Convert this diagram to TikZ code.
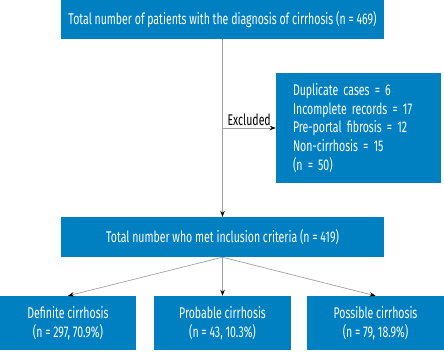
\documentclass[tikz,border=0pt]{standalone}
\usepackage{fontspec}
\setmainfont[FakeStretch=0.68]{Fira Sans}
\usetikzlibrary{arrows.meta}
\definecolor{boxblue}{RGB}{0,128,192}
\definecolor{linegrey}{RGB}{160,160,160}
\tikzset{
  bluebox/.style={fill=boxblue, text=white, draw=none, inner sep=0pt, font=\fontsize{15.5}{19}\selectfont, align=center},
  conn/.style={draw=linegrey, line width=0.7pt, -{Stealth[length=6pt,width=4.5pt,black]}}
}
\begin{document}
\begin{tikzpicture}[x=1pt,y=-1pt]
\useasboundingbox (0,0) rectangle (444,359);
\node[bluebox, minimum width=323pt, minimum height=39pt] (top) at (222.5,19.5) {Total number of patients with the diagnosis of cirrhosis (n = 469)};
\node[bluebox, minimum width=165pt, minimum height=110pt, align=left, text width=131pt, inner xsep=17pt, font=\fontsize{15.5}{18.75}\selectfont] (excl) at (358.5,128) {Duplicate cases = 6\\Incomplete records = 17\\Pre-portal fibrosis = 12\\Non-cirrhosis = 15\\(n = 50)};
\node[bluebox, minimum width=323pt, minimum height=40pt] (incl) at (222.5,237) {Total number who met inclusion criteria (n = 419)};
\node[bluebox, minimum width=136pt, minimum height=54pt] (def) at (68,323) {Definite cirrhosis\\(n = 297, 70.9\%)};
\node[bluebox, minimum width=137pt, minimum height=54pt] (prob) at (222.5,323) {Probable cirrhosis\\(n = 43, 10.3\%)};
\node[bluebox, minimum width=137pt, minimum height=54pt] (poss) at (375.5,323) {Possible cirrhosis\\(n = 79, 18.9\%)};
\coordinate (branch) at (top.south |- excl.west);
\draw[conn] (top.south) -- (incl.north);
\draw[conn] (branch) -- node[above, font=\fontsize{15.5}{17}\selectfont, inner sep=2pt] {Excluded} (excl.west);
\draw[conn] (incl.south) -- (def.north);
\draw[conn] (incl.south) -- (prob.north);
\draw[conn] (incl.south) -- (poss.north);
\end{tikzpicture}
\end{document}
